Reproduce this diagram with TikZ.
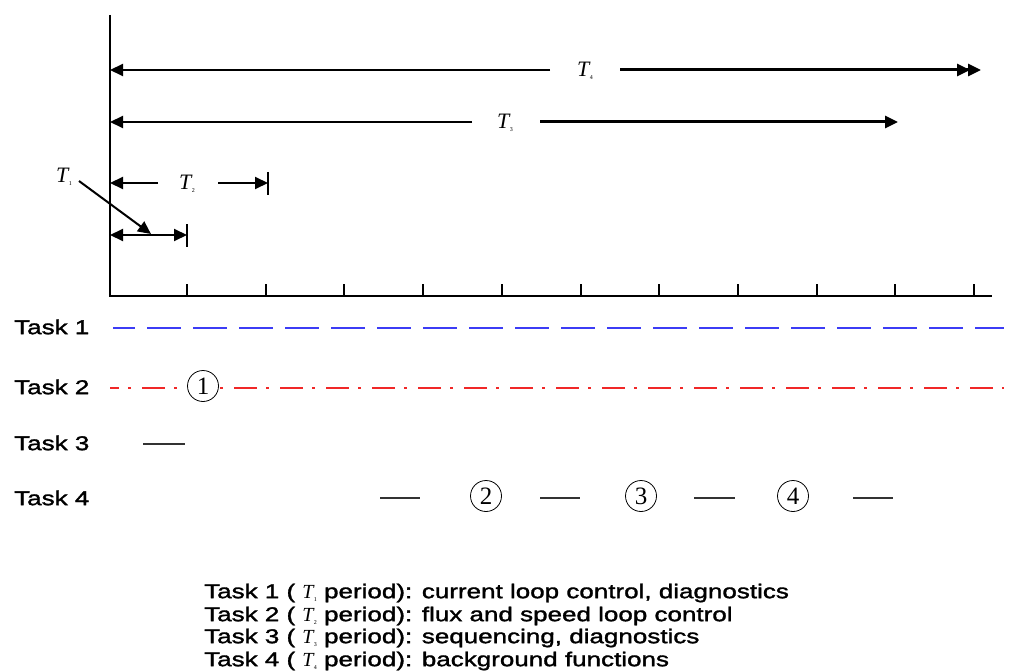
\documentclass[tikz,border=0pt]{standalone}
\usepackage{fontspec}
\setmainfont{Liberation Sans}[FakeStretch=1.3,FakeBold=1.6]
\newfontfamily\serifT{Liberation Serif}
\usetikzlibrary{arrows.meta}
\newcommand{\Tl}[1]{{\serifT\itshape T}\kern0.3pt\raisebox{-3pt}{\serifT\fontsize{6}{6}\selectfont #1}}
\begin{document}
\begin{tikzpicture}[x=1pt,y=-1pt,
  axisline/.style={line width=2pt,black},
  thinln/.style={line width=2pt,black},
  thickln/.style={line width=3pt,black},
  tip/.tip={Triangle[length=13pt,width=12pt]},
  tlabel/.style={inner sep=0pt,font=\fontsize{22}{22}\selectfont},
  tasklbl/.style={anchor=west,inner sep=0pt,font=\fontsize{20}{22}\selectfont},
  legend/.style={anchor=west,inner sep=0pt,font=\fontsize{20}{22}\selectfont},
  circnum/.style={circle,draw,fill=white,line width=0.8pt,minimum size=31pt,inner sep=0pt,font=\serifT\fontsize{25}{25}\selectfont},
  seg/.style={line width=2pt,black!80}
]
\useasboundingbox (0,0) rectangle (1016,671);
% axes
\coordinate (Ytop) at (110,15);
\coordinate (O) at (110,296);
\coordinate (Xend) at (992,296);
\draw[axisline] (Ytop) -- (O) -- (Xend);
\foreach \i in {0,...,10}{
  \draw[axisline] ({187+78.7*\i},284) -- ({187+78.7*\i},296);
}
% T4
\node[tlabel] (t4) at (585,71) {\Tl{4}};
\coordinate (t4L) at (110,70);
\coordinate (t4a) at (550,70);
\coordinate (t4b) at (620,70);
\coordinate (t4R) at (981,70);
\draw[thinln,-tip] (t4a) -- (t4L);
\draw[thickln,-{tip[sep=-2pt]tip}] (t4b) -- (t4R);
% T3
\node[tlabel] (t3) at (505,123) {\Tl{3}};
\coordinate (t3L) at (110,122);
\coordinate (t3a) at (472,122);
\coordinate (t3b) at (540,122);
\coordinate (t3R) at (898,122);
\draw[thinln,-tip] (t3a) -- (t3L);
\draw[thickln,-tip] (t3b) -- (t3R);
% T2
\node[tlabel] (t2) at (187,184) {\Tl{2}};
\coordinate (t2L) at (110,183);
\coordinate (t2a) at (158,183);
\coordinate (t2b) at (218,183);
\coordinate (t2R) at (268,183);
\coordinate (b2t) at (268,172);
\coordinate (b2b) at (268,195);
\draw[thinln,-tip] (t2a) -- (t2L);
\draw[thinln,-tip] (t2b) -- (t2R);
\draw[thinln] (b2t) -- (b2b);
% T1
\coordinate (t1L) at (110,235);
\coordinate (t1R) at (187,235);
\coordinate (b1t) at (187,224);
\coordinate (b1b) at (187,247);
\draw[thinln,tip-tip] (t1L) -- (t1R);
\draw[thinln] (b1t) -- (b1b);
\node[tlabel] (t1) at (64,177) {\Tl{1}};
\coordinate (p1s) at (79,181);
\coordinate (p1e) at (151,234);
\draw[thinln,-tip] (p1s) -- (p1e);
% task labels
\node[tasklbl] (k1) at (14,327) {Task 1};
\node[tasklbl] (k2) at (14,387) {Task 2};
\node[tasklbl] (k3) at (14,443) {Task 3};
\node[tasklbl] (k4) at (14,498) {Task 4};
% task 1 line
\coordinate (a1) at (113,328);
\coordinate (a2) at (1004,328);
\draw[line width=1.6pt,color={rgb,255:red,60;green,60;blue,245},dash pattern=on 34pt off 12pt,dash phase=12pt] (a1) -- (a2);
% task 2 line
\coordinate (r1) at (110,388);
\coordinate (r2) at (1004,388);
\draw[line width=1.3pt,color={rgb,255:red,240;green,40;blue,40},dash pattern=on 23pt off 9pt on 3pt off 11pt,dash phase=14pt] (r1) -- (r2);
\node[circnum] (c1) at (203,386) {1};
% task 3
\coordinate (s3a) at (143,444);
\coordinate (s3b) at (185,444);
\draw[seg] (s3a) -- (s3b);
% task 4
\coordinate (u1) at (380,498); \coordinate (u2) at (420,498);
\coordinate (u3) at (540,498); \coordinate (u4) at (580,498);
\coordinate (u5) at (694,498); \coordinate (u6) at (735,498);
\coordinate (u7) at (853,498); \coordinate (u8) at (893,498);
\draw[seg] (u1) -- (u2);
\draw[seg] (u3) -- (u4);
\draw[seg] (u5) -- (u6);
\draw[seg] (u7) -- (u8);
\node[circnum] (c2) at (486,496) {2};
\node[circnum] (c3) at (641,496) {3};
\node[circnum] (c4) at (793,496) {4};
% legend
\node[legend] (l1) at (204,593) {Task 1 ( \Tl{1} period): current loop control, diagnostics};
\node[legend] (l2) at (204,616) {Task 2 ( \Tl{2} period): flux and speed loop control};
\node[legend] (l3) at (204,638) {Task 3 ( \Tl{3} period): sequencing, diagnostics};
\node[legend] (l4) at (204,661) {Task 4 ( \Tl{4} period): background functions};
\end{tikzpicture}
\end{document}
